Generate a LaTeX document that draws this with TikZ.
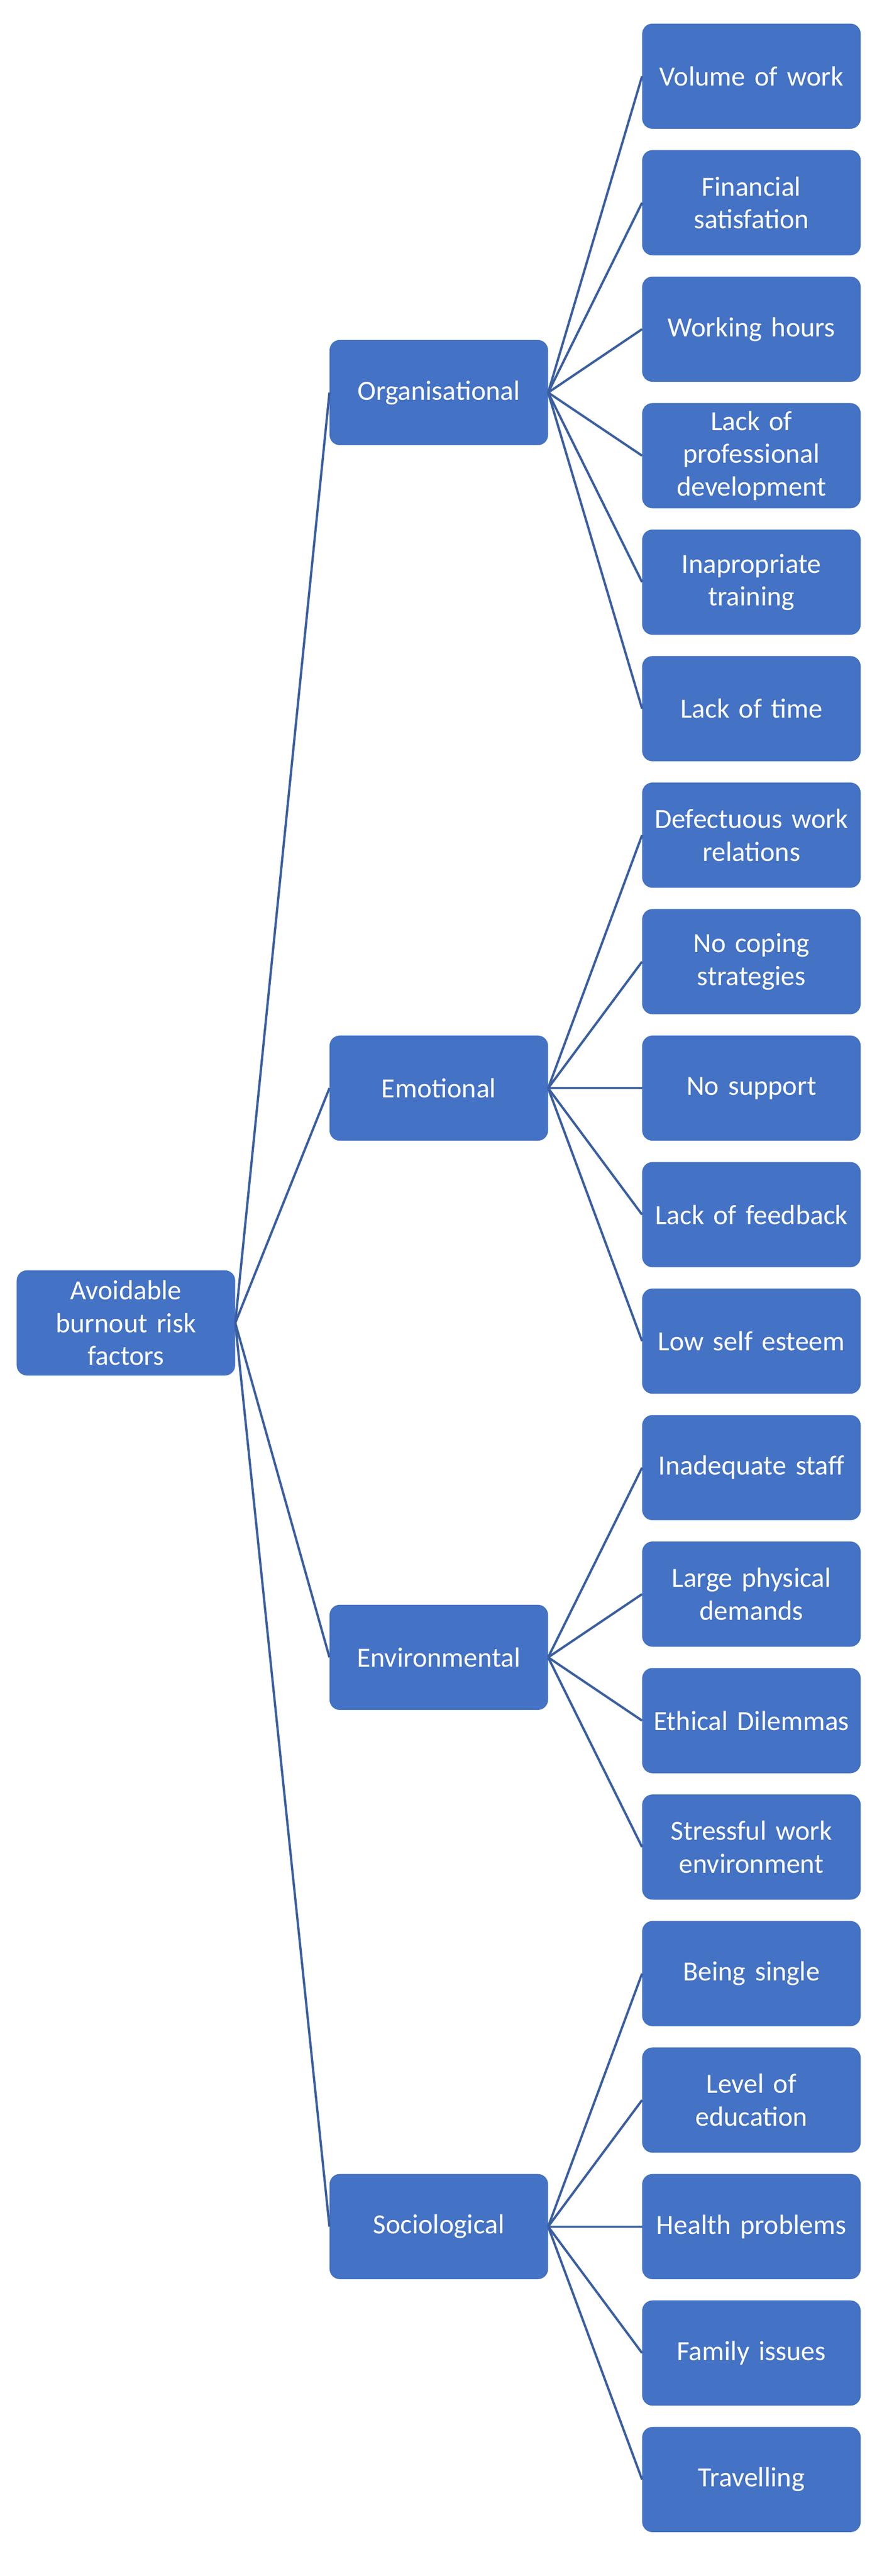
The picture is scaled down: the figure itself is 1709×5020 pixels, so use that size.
\documentclass[tikz,border=0pt]{standalone}
\usepackage{fontspec}
\setmainfont{Carlito}
\begin{document}
\begin{tikzpicture}[x=1pt,y=-1pt,
  box/.style={draw=none,fill={rgb,255:red,68;green,114;blue,196},rounded corners=20pt,
    minimum width=426pt,minimum height=205pt,inner sep=0pt,text width=400pt,align=center,
    text=white,font=\fontsize{54}{64}\selectfont},
  link/.style={draw={rgb,255:red,58;green,94;blue,160},line width=4.5pt}]
\useasboundingbox (0,0) rectangle (1709,5020);
\node[box] (root) at (245.5,2578) {Avoidable\\burnout risk\\factors};
\def\lx{1465}
\def\mx{855.5}
\foreach \i/\t in {1/Volume of work,2/Financial\\satisfation,3/Working hours,4/Lack of\\professional\\development,5/Inapropriate\\training,6/Lack of time,
7/Defectuous work\\relations,8/No coping\\strategies,9/No support,10/Lack of feedback,11/Low self esteem,
12/Inadequate staff,13/Large physical\\demands,14/Ethical Dilemmas,15/Stressful work\\environment,
16/Being single,17/Level of\\education,18/Health problems,19/Family issues,20/Travelling}
  \node[box] (l\i) at (\lx,{148.5+(\i-1)*246.5}) {\t};
\node[box] (org) at (\mx,765) {Organisational};
\node[box] (emo) at (\mx,2120.5) {Emotional};
\node[box] (env) at (\mx,3229.75) {Environmental};
\node[box] (soc) at (\mx,4339) {Sociological};
\foreach \m in {org,emo,env,soc} \draw[link] (root.east) -- (\m.west);
\foreach \i in {1,...,6} \draw[link] (org.east) -- (l\i.west);
\foreach \i in {7,...,11} \draw[link] (emo.east) -- (l\i.west);
\foreach \i in {12,...,15} \draw[link] (env.east) -- (l\i.west);
\foreach \i in {16,...,20} \draw[link] (soc.east) -- (l\i.west);
\end{tikzpicture}
\end{document}
